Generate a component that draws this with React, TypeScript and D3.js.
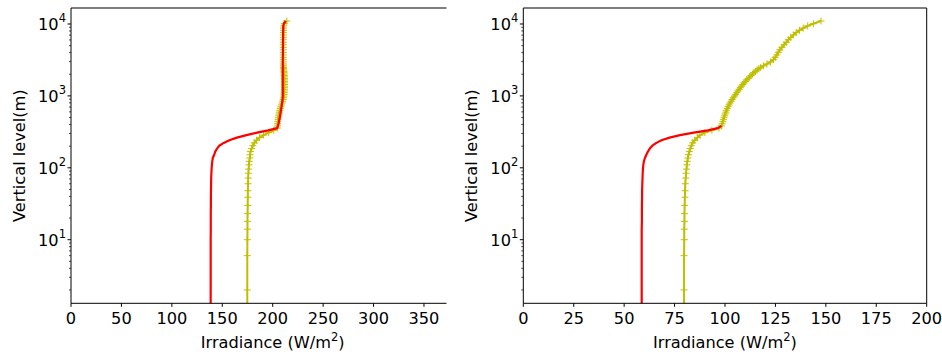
import React from 'react';
import * as d3 from 'd3';

// Vertical model levels (m); the surface level 0 lies below the log axis
const heights = [
  0,
  2, 6, 10, 14, 18, 23, 30, 39, 48, 60, 72, 84, 96,
  110, 123, 137, 152, 168, 185, 203, 222, 242, 263, 285, 308, 332,
  357, 383, 410, 438, 467, 497, 528, 560, 594, 630, 668, 708, 750, 795, 842, 891, 942, 995,
  1050, 1110, 1170, 1235, 1300, 1370, 1440, 1515, 1590, 1670, 1750, 1835, 1920, 2010, 2100, 2195, 2290, 2390, 2495,
  2620, 2780, 2970, 3190, 3440, 3720, 4030, 4370, 4740, 5140, 5570, 6030, 6520, 7040, 7590, 8170, 8780, 9420, 10090, 11000,
];

// Left panel series (W/m2)
const leftRed = [
  138.5,
  138.5, 138.5, 138.5, 138.6, 138.6, 138.6, 138.7, 138.7, 138.8, 138.9, 139.0, 139.2, 139.4,
  139.7, 140.1, 140.6, 142.0, 143.0, 144.8, 147.0, 151.5, 157.0, 164.5, 174.0, 184.5, 195.5,
  204.5, 205.3, 205.8, 206.2, 206.6, 207.0, 207.3, 207.6, 207.9, 208.2, 208.5, 208.8, 209.0, 209.3, 209.5, 209.7, 209.9, 210.0,
  210.0, 210.0, 210.0, 210.0, 210.0, 210.0, 210.0, 210.0, 210.0, 210.0, 210.0, 210.0, 210.0, 210.0, 210.0, 210.0, 210.0, 210.0, 210.0,
  210.0, 210.0, 210.0, 210.0, 210.0, 210.1, 210.1, 210.1, 210.1, 210.2, 210.2, 210.2, 210.3, 210.3, 210.3, 210.4, 210.4, 210.5, 211.0, 213.0,
];
const leftYellow = [
  174.8,
  174.8, 174.8, 174.9, 175.0, 175.0, 175.1, 175.2, 175.3, 175.4, 175.5, 175.7, 175.9, 176.1,
  176.4, 176.8, 177.3, 177.6, 178.0, 179.0, 180.3, 181.8, 184.0, 187.0, 191.0, 196.0, 201.0,
  204.5, 204.6, 204.8, 205.0, 205.3, 205.6, 206.0, 206.3, 206.7, 207.1, 207.6, 208.1, 208.7, 209.3, 209.9, 210.4, 210.8, 211.1,
  211.3, 211.4, 211.5, 211.5, 211.6, 211.6, 211.6, 211.6, 211.6, 211.6, 211.5, 211.5, 211.4, 211.3, 211.2, 211.1, 211.0, 210.9, 210.8,
  210.7, 210.6, 210.6, 210.5, 210.5, 210.5, 210.5, 210.5, 210.5, 210.5, 210.5, 210.5, 210.5, 210.6, 210.6, 210.7, 210.8, 211.0, 211.5, 214.0,
];

// Right panel series (W/m2); red is hidden under yellow above the junction
const rightRed = [
  58.7,
  58.7, 58.7, 58.7, 58.7, 58.8, 58.8, 58.8, 58.9, 58.9, 59.0, 59.1, 59.2, 59.3,
  59.5, 59.8, 60.3, 61.0, 61.8, 62.7, 64.0, 66.0, 68.5, 72.5, 77.7, 84.5, 91.5,
  96.5, 98.2,
];
const rightYellow = [
  79.7,
  79.7, 79.7, 79.8, 79.8, 79.9, 79.9, 80.0, 80.1, 80.2, 80.3, 80.5, 80.7, 80.9,
  81.1, 81.3, 81.6, 81.9, 82.3, 82.8, 83.3, 84.0, 85.0, 86.3, 87.6, 90.0, 93.5,
  97.0, 98.2, 98.6, 98.9, 99.2, 99.5, 99.8, 100.1, 100.4, 100.7, 101.1, 101.5, 102.0, 102.5, 103.0, 103.5, 104.1, 104.7,
  105.3, 105.9, 106.4, 107.0, 107.6, 108.2, 108.8, 109.4, 110.1, 110.8, 111.5, 112.2, 112.9, 113.6, 114.3, 115.1, 115.9, 116.8, 117.7,
  119.0, 120.8, 122.6, 124.0, 124.9, 125.7, 126.4, 127.2, 128.2, 129.3, 130.4, 131.4, 132.6, 133.9, 135.3, 136.9, 138.8, 141.0, 143.8, 147.6,
];

const leftXTicks = [0, 50, 100, 150, 200, 250, 300, 350];
const rightXTicks = [0, 25, 50, 75, 100, 125, 150, 175, 200];
const yMajorExp = [1, 2, 3, 4];
const yDomain = [1.305, 16690];
const xLabel = 'Irradiance (W/m';
const yLabel = 'Vertical level(m)';

const FONT = 'DejaVu Sans, sans-serif';
const FS = 16.2;
const TOP = 8;
const BOTTOM = 303.3;
const RED = '#ff0000';
const YEL = '#bfbf00';

type PanelProps = {
  id: string;
  x0: number;
  x1: number;
  xMax: number;
  xTicks: number[];
  red: number[];
  yellow: number[];
  clipRight: number;
  fullBox: boolean;
};

function Panel({ id, x0, x1, xMax, xTicks, red, yellow, clipRight, fullBox }: PanelProps) {
  const xs = d3.scaleLinear().domain([0, xMax]).range([x0, x1]);
  const ysRaw = d3.scaleLog().domain(yDomain).range([BOTTOM, TOP]);
  // non-positive heights are clipped to below the axis, like a log axis does
  const ys = (h: number) => (h > 0 ? ysRaw(h) : ysRaw.range()[0] + 20);
  const line = d3
    .line<number>()
    .x((v) => xs(v))
    .y((_, i) => ys(heights[i]));
  const minor: number[] = [];
  for (let d = 0; d <= 4; d++) {
    for (let k = 2; k <= 9; k++) {
      const v = k * Math.pow(10, d);
      if (v >= yDomain[0] && v <= yDomain[1]) minor.push(v);
    }
  }
  const spineRight = Math.min(x1, clipRight);
  const cx = (x0 + x1) / 2;
  const plotRight = Math.min(x1, clipRight);
  return (
    <g>
      <defs>
        <clipPath id={id}>
          <rect x={0} y={0} width={clipRight} height={356} />
        </clipPath>
        <clipPath id={id + 'p'}>
          <rect x={x0} y={TOP} width={plotRight - x0} height={BOTTOM - TOP} />
        </clipPath>
      </defs>
      <g clipPath={`url(#${id}p)`}>
        <path d={line(yellow) || ''} fill="none" stroke={YEL} strokeWidth={2} strokeLinejoin="round" />
        {yellow.map((v, i) => {
          if (heights[i] <= 0) return null;
          const px = xs(v);
          const py = ys(heights[i]);
          return (
            <path
              key={i}
              d={`M${px - 3.5},${py}H${px + 3.5}M${px},${py - 3.5}V${py + 3.5}`}
              stroke={YEL}
              strokeWidth={1}
              fill="none"
            />
          );
        })}
        <path d={line(red) || ''} fill="none" stroke={RED} strokeWidth={2.2} strokeLinejoin="round" />
      </g>
      <g clipPath={`url(#${id})`}>
        <line x1={x0} x2={x0} y1={TOP} y2={BOTTOM} stroke="#000" strokeWidth={1} />
        <line x1={x0} x2={spineRight} y1={BOTTOM} y2={BOTTOM} stroke="#000" strokeWidth={1} />
        <line x1={x0} x2={spineRight} y1={TOP} y2={TOP} stroke="#000" strokeWidth={1} />
        {fullBox && <line x1={x1} x2={x1} y1={TOP} y2={BOTTOM} stroke="#000" strokeWidth={1} />}

        {xTicks.map((t) => (
          <g key={t}>
            <line x1={xs(t)} x2={xs(t)} y1={BOTTOM} y2={BOTTOM + 3.5} stroke="#000" strokeWidth={1} />
            <text x={xs(t)} y={323.5} textAnchor="middle" fontFamily={FONT} fontSize={FS} fill="#000">
              {t}
            </text>
          </g>
        ))}
      </g>

      {minor.map((v) => (
        <line key={v} x1={x0 - 2} x2={x0} y1={ys(v)} y2={ys(v)} stroke="#000" strokeWidth={0.7} />
      ))}
      {yMajorExp.map((e) => {
        const py = ys(Math.pow(10, e));
        return (
          <g key={e}>
            <line x1={x0 - 3.5} x2={x0} y1={py} y2={py} stroke="#000" strokeWidth={1} />
            <text x={x0 - 5} y={py + 6} textAnchor="end" fontFamily={FONT} fontSize={FS} fill="#000">
              <tspan>10</tspan>
              <tspan dy={-7.5} fontSize={11.5}>
                {e}
              </tspan>
            </text>
          </g>
        );
      })}

      <text x={cx} y={347.5} textAnchor="middle" fontFamily={FONT} fontSize={FS} fill="#000">
        <tspan>{xLabel}</tspan>
        <tspan dy={-6.5} fontSize={11.5}>
          2
        </tspan>
        <tspan dy={6.5}>)</tspan>
      </text>
      <text
        transform={`translate(${x0 - 46.5},${(TOP + BOTTOM) / 2}) rotate(-90)`}
        textAnchor="middle"
        fontFamily={FONT}
        fontSize={FS}
        fill="#000"
      >
        {yLabel}
      </text>
    </g>
  );
}

export default function App() {
  return (
    <svg
      width={942}
      height={356}
      viewBox="0 0 942 356"
      style={{ position: 'absolute', left: 0, top: 0, background: '#fff' }}
    >
      <rect x={0} y={0} width={942} height={356} fill="#fff" />
      <Panel
        id="clipL"
        x0={71}
        x1={474.4}
        xMax={400}
        xTicks={leftXTicks}
        red={leftRed}
        yellow={leftYellow}
        clipRight={446.7}
        fullBox={false}
      />
      <Panel
        id="clipR"
        x0={523.3}
        x1={926.7}
        xMax={200}
        xTicks={rightXTicks}
        red={rightRed}
        yellow={rightYellow}
        clipRight={942}
        fullBox={true}
      />
    </svg>
  );
}
